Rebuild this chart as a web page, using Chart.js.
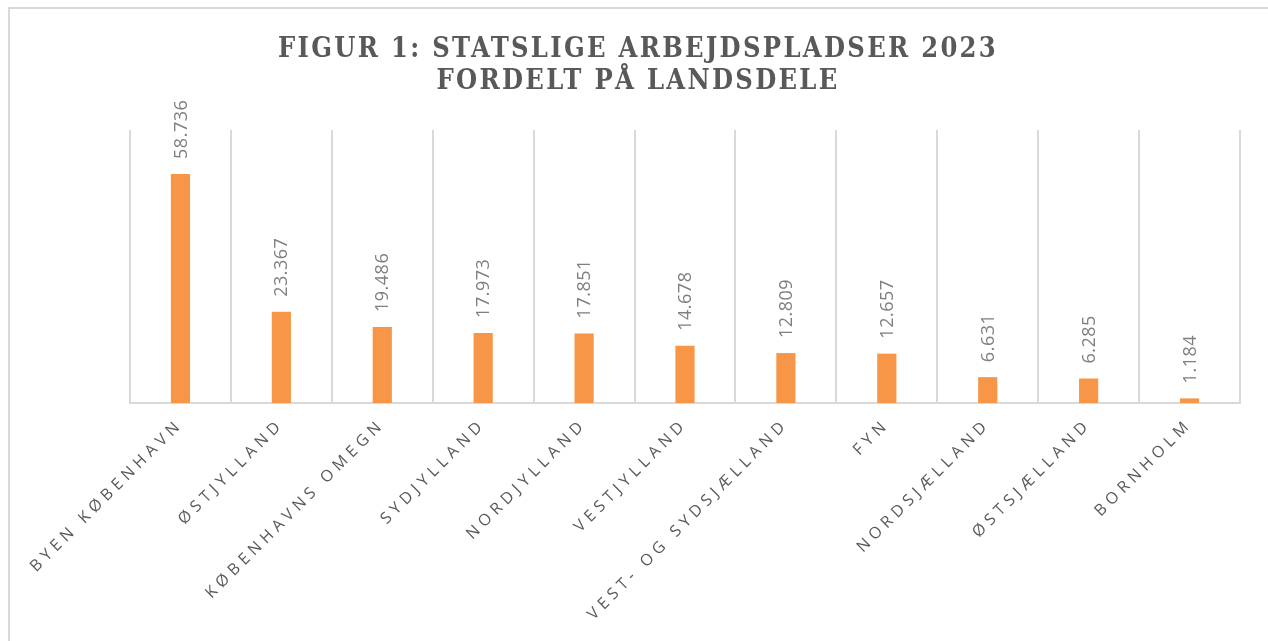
<!DOCTYPE html>
<html>
<head>
<meta charset="utf-8">
<script src="https://cdn.jsdelivr.net/npm/chart.js@4.4.1/dist/chart.umd.min.js"></script>
<style>
  html, body { margin: 0; padding: 0; background: #ffffff; overflow: hidden; }
  #wrap { position: relative; width: 1268px; height: 641px; }
  #frame { position: absolute; left: 8px; top: 7px; width: 1300px; height: 700px;
           border: 2px solid #d9d9d9; pointer-events: none; box-sizing: border-box; }
  canvas { position: absolute; left: 0; top: 0; }
</style>
</head>
<body>
<div id="wrap">
  <canvas id="c" width="1268" height="641"></canvas>
  <div id="frame"></div>
</div>
<script>
// ---- data ----
const titleLines = ['FIGUR 1: STATSLIGE ARBEJDSPLADSER 2023', 'FORDELT PÅ LANDSDELE'];
const categories = ['BYEN KØBENHAVN', 'ØSTJYLLAND', 'KØBENHAVNS OMEGN', 'SYDJYLLAND', 'NORDJYLLAND',
                    'VESTJYLLAND', 'VEST- OG SYDSJÆLLAND', 'FYN', 'NORDSJÆLLAND', 'ØSTSJÆLLAND', 'BORNHOLM'];
const jobs = [58736, 23367, 19486, 17973, 17851, 14678, 12809, 12657, 6631, 6285, 1184];
const yMax = 70000;

// ---- style ----
const TICK_LS = '4.8px';
const TITLE_LS = '2.3px';

function fmt(n) { return String(n).replace(/\B(?=(\d{3})+(?!\d))/g, '.'); }

const spacingPlugin = {
  id: 'spacing',
  beforeLayout(chart) { chart.ctx.letterSpacing = TICK_LS; },
  afterLayout(chart) {
    const s = chart.scales.x;
    if (s && !s._lsWrapped) {
      const orig = s.drawLabels;
      s.drawLabels = function (area) {
        const c = this.ctx; const prev = c.letterSpacing;
        c.letterSpacing = TICK_LS; orig.call(this, area); c.letterSpacing = prev;
      };
      s._lsWrapped = true;
    }
  },
  beforeDraw(chart) { chart.ctx.letterSpacing = TITLE_LS; }
};

const valueLabels = {
  id: 'valueLabels',
  afterDatasetsDraw(chart) {
    const ctx = chart.ctx;
    const meta = chart.getDatasetMeta(0);
    meta.data.forEach((bar, i) => {
      ctx.save();
      ctx.letterSpacing = '0.5px';
      ctx.font = '18px "Open Sans"';
      ctx.fillStyle = '#7f7f7f';
      ctx.translate(bar.x + 1, bar.y - 15);
      ctx.rotate(-Math.PI / 2);
      ctx.textAlign = 'left';
      ctx.textBaseline = 'middle';
      ctx.fillText(fmt(chart.data.datasets[0].data[i]), 0, 0);
      ctx.restore();
    });
  }
};

new Chart(document.getElementById('c'), {
  type: 'bar',
  data: {
    labels: categories,
    datasets: [{
      data: jobs,
      backgroundColor: '#F79646',
      borderWidth: 0,
      categoryPercentage: 1,
      barPercentage: 0.19
    }]
  },
  options: {
    responsive: false,
    animation: false,
    layout: { padding: { left: 8, right: 0, top: 0, bottom: 0 } },
    plugins: {
      legend: { display: false },
      tooltip: { enabled: false },
      title: {
        display: true,
        text: titleLines,
        color: '#595959',
        font: { family: '"DejaVu Serif"', size: 27, weight: 'bold condensed', lineHeight: '32px' },
        padding: { top: 34, bottom: 32 }
      }
    },
    scales: {
      x: {
        grid: { display: true, color: '#d9d9d9', lineWidth: 2, drawTicks: false, offset: true },
        border: { display: true, color: '#d9d9d9', width: 2 },
        ticks: {
          color: '#595959',
          font: { family: '"Open Sans"', size: 16 },
          minRotation: 45, maxRotation: 45,
          autoSkip: false,
          padding: 12
        },
        afterFit(s) { s.height = 238; }
      },
      y: {
        position: 'left',
        min: 0, max: yMax,
        grid: { display: false },
        border: { display: false },
        ticks: { display: false },
        afterFit(s) { s.width = 122; }
      },
      y2: {
        position: 'right',
        min: 0, max: yMax,
        grid: { display: false },
        border: { display: false },
        ticks: { display: false },
        afterFit(s) { s.width = 28; }
      }
    }
  },
  plugins: [spacingPlugin, valueLabels]
});
</script>
</body>
</html>
